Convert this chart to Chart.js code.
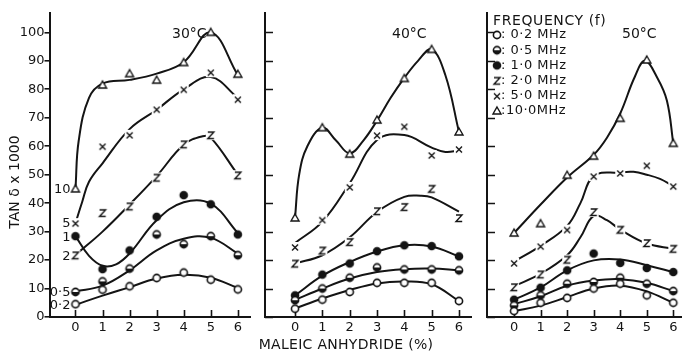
<!DOCTYPE html>
<html>
<head>
<meta charset="utf-8">
<script src="https://cdn.jsdelivr.net/npm/chart.js"></script>
<style>
  body { margin: 0; background: #fff; }
  #wrap { position: relative; width: 688px; height: 353px; }
  #wrap canvas { position: absolute; left: 0; top: 0; }
</style>
</head>
<body>
<div id="wrap">
  <canvas id="c30" width="688" height="353"></canvas>
  <canvas id="c40" width="688" height="353"></canvas>
  <canvas id="c50" width="688" height="353"></canvas>
</div>
<script>
const INK = '#141414';
const FONT = '"DejaVu Sans", sans-serif';

// --- DATA ---
const maleicPct = [0, 1, 2, 3, 4, 5, 6];
const yTicks = [0, 10, 20, 30, 40, 50, 60, 70, 80, 90, 100];
const freqLabels = ['0·2 MHz', '0·5 MHz', '1·0 MHz', '2·0 MHz', '5·0 MHz', '10·0MHz'];
const markerKinds = ['open', 'half', 'solid', 'z', 'x', 'tri'];
const tags30 = ['0·2', '0·5', '1', '2', '5', '10'];

// measured tan δ x 1000, one row per frequency, columns follow maleicPct
const marks30 = [
  [4.5, 9.6, 10.8, 13.7, 15.6, 13.1, 9.7],
  [8.8, 12.5, 17, 29, 25.6, 28.4, 21.7],
  [28.4, 16.8, 23.4, 35.2, 42.8, 39.6, 29],
  [21.7, 36.6, 38.9, 49, 60.7, 63.9, 49.8],
  [33, 60, 64, 73, 80, 86, 76.5],
  [45, 81.5, 85.5, 83.2, 89.4, 100, 85.3]
];
const marks40 = [
  [2.9, 6.1, 8.8, 12, 12, 12, 5.6],
  [5.9, 10, 13.8, 17.4, 16.7, 16.7, 16.4],
  [7.6, 14.9, 18.8, 23.1, 25.2, 24.9, 21.3],
  [18.8, 23.4, 26.4, 37.2, 38.7, 45.1, 34.8],
  [24.6, 34.2, 45.7, 63.9, 67, 56.9, 59],
  [34.8, 66.5, 57.2, 69.2, 83.8, 94, 65]
];
const marks50 = [
  [2.1, 5, 6.7, 10, 11.7, 7.6, 5],
  [4.1, 7.6, 11.7, 12.3, 13.8, 11.7, 9.1],
  [6.1, 10.3, 16.4, 22.3, 19, 17.2, 15.8],
  [10.5, 15, 20.2, 36.9, 30.7, 26, 24],
  [19, 24.9, 30.7, 49.5, 50.6, 53.3, 46],
  [29.5, 32.8, 49.8, 56.5, 69.8, 90.3, 61]
];

// trend curves drawn through the points, as [pct, value] pairs
const fit30 = [
  [[0, 4.3], [1, 7.5], [2, 10.5], [3, 13.5], [4, 14.8], [5, 13.8], [6, 10.2]],
  [[0, 9], [1, 11], [2, 16.4], [3, 23.4], [4, 27.5], [5, 27.8], [6, 22.3]],
  [[0, 28.4], [0.5, 21.5], [1, 18], [1.5, 18.5], [2, 22.3], [3, 34], [4, 40.3], [5, 39.8], [6, 29.5]],
  [[0.15, 23], [1, 30], [2, 39.5], [3, 49.5], [4, 60.5], [4.7, 63.5], [5, 63], [6, 50]],
  [[0, 33], [0.25, 40.5], [0.5, 47.5], [1, 54], [2, 66], [3, 72.8], [4, 80], [5, 84.3], [6, 77]],
  [[0, 45], [0.12, 62], [0.5, 77], [1, 82], [2, 83.3], [3, 85.5], [4, 89.5], [5, 100], [6, 85]]
];
const fit40 = [
  [[0, 3], [1, 6.5], [2, 9.5], [3, 11.8], [4, 12.5], [5, 11.5], [6, 5.6]],
  [[0, 6], [1, 10], [2, 13.5], [3, 15.8], [4, 16.8], [5, 17], [6, 16.4]],
  [[0, 7.6], [1, 14.5], [2, 19.3], [3, 23], [4, 25.2], [5, 24.8], [6, 21.3]],
  [[0, 18.8], [1, 21.7], [2, 28], [3, 36.9], [4, 42.2], [4.6, 42.6], [5, 42], [6, 37]],
  [[0, 26], [1, 33.5], [2, 47], [3, 62.2], [4, 63.9], [5, 59.5], [5.5, 58], [6, 58.5]],
  [[0, 35], [0.15, 50], [0.45, 60], [1, 66.5], [1.5, 62], [2, 57.5], [2.5, 62], [3, 69], [3.5, 77], [4, 84], [4.5, 90], [5, 94], [5.5, 85], [6, 65]]
];
const fit50 = [
  [[0, 2.1], [1, 4], [2, 7], [3, 10], [4, 11], [5, 9], [6, 5]],
  [[0, 4.5], [1, 7.3], [2, 11], [3, 12.8], [4, 13.3], [5, 12], [6, 9.1]],
  [[0, 6.1], [1, 10.4], [2, 16.4], [3, 19.9], [4, 20.2], [5, 18.2], [6, 15.8]],
  [[0, 10.8], [1, 15.2], [2, 21.7], [2.5, 28], [3, 35.5], [3.5, 34], [4, 30.7], [5, 25.8], [6, 24]],
  [[0, 19.5], [1, 25], [2, 32], [2.5, 40], [3, 49.5], [4, 50.8], [4.5, 51], [5, 50], [5.5, 48.5], [6, 46]],
  [[0, 29.5], [1, 39.5], [2, 49], [3, 57], [3.5, 63], [4, 71.5], [4.55, 84.4], [4.93, 90], [5.4, 84], [5.76, 76], [6, 61]]
];

// --- MARKERS ---
// small canvases used as pointStyle; x and z get a white pad so the curve breaks around them
function makeMarker(kind) {
  const c = document.createElement('canvas');
  c.width = 14; c.height = 14;
  const g = c.getContext('2d');
  g.strokeStyle = INK;
  g.lineWidth = 1.6;
  g.beginPath();
  if (kind === 'open' || kind === 'half') {
    g.arc(7, 7, 3.6, 0, Math.PI * 2);
    g.fillStyle = '#fff';
    g.fill();
    if (kind === 'half') {
      g.beginPath();
      g.arc(7, 7, 3.6, 0, Math.PI);
      g.fillStyle = INK;
      g.fill();
      g.beginPath();
      g.arc(7, 7, 3.6, 0, Math.PI * 2);
    }
    g.stroke();
  } else if (kind === 'solid') {
    g.arc(7, 7, 4.3, 0, Math.PI * 2);
    g.fillStyle = INK;
    g.fill();
  } else if (kind === 'z' || kind === 'x') {
    g.fillStyle = '#fff';
    g.fillRect(2, 2, 10, 10);
    g.lineWidth = 1.4;
    if (kind === 'z') {
      g.moveTo(4, 4); g.lineTo(10, 4); g.lineTo(4, 10.5); g.lineTo(10.2, 10.5);
    } else {
      g.moveTo(4, 4.5); g.lineTo(10, 10.5);
      g.moveTo(10, 4.5); g.lineTo(4, 10.5);
    }
    g.stroke();
  } else if (kind === 'tri') {
    g.moveTo(7, 3); g.lineTo(11, 10); g.lineTo(3, 10); g.closePath();
    g.fillStyle = '#fff';
    g.fill();
    g.lineWidth = 1.4;
    g.stroke();
  }
  return c;
}
const markerImgs = markerKinds.map(makeMarker);

// --- DECORATION PLUGIN ---
// inward tick marks, temperature tag, curve tags, legend and axis titles
const panelDecor = {
  id: 'panelDecor',
  beforeDatasetsDraw(chart, args, opts) {
    const { ctx, chartArea: a, scales: { x, y } } = chart;
    ctx.save();
    ctx.strokeStyle = INK;
    ctx.lineWidth = 1.6;
    ctx.beginPath();
    maleicPct.forEach(v => {
      const px = Math.round(x.getPixelForValue(v)) + 0.5;
      ctx.moveTo(px, a.bottom);
      ctx.lineTo(px, a.bottom - 7);
    });
    if (opts.innerY) {
      yTicks.forEach(v => {
        const py = Math.round(y.getPixelForValue(v)) + 0.5;
        ctx.moveTo(a.left, py);
        ctx.lineTo(a.left + 8, py);
      });
    }
    ctx.stroke();
    ctx.restore();
  },
  afterDatasetsDraw(chart, args, opts) {
    const { ctx, scales: { x, y } } = chart;
    ctx.save();
    ctx.fillStyle = INK;
    ctx.textBaseline = 'middle';

    ctx.font = '14px ' + FONT;
    ctx.textAlign = 'left';
    ctx.fillText(opts.temp, opts.tempX, 34);

    if (opts.tags) {
      ctx.font = '13px ' + FONT;
      ctx.textAlign = 'right';
      opts.tags.forEach((t, i) => {
        ctx.fillText(t, x.getPixelForValue(0) - 5, y.getPixelForValue(opts.marks[i][0]) + 1);
      });
    }

    if (opts.legend) {
      ctx.textAlign = 'left';
      ctx.font = '14px ' + FONT;
      ctx.letterSpacing = '0.6px';
      ctx.fillText('FREQUENCY (f)', 493, 21);
      ctx.font = '13px ' + FONT;
      ctx.letterSpacing = '0.5px';
      freqLabels.forEach((lab, i) => {
        const ly = 35 + 15.2 * i;
        const img = markerImgs[i];
        ctx.drawImage(img, 497 - img.width / 2, ly - img.height / 2);
        ctx.fillText((i === 5 ? ':' : ': ') + lab, 501, ly);
      });
      ctx.letterSpacing = '0px';
    }

    if (opts.yTitle) {
      ctx.save();
      ctx.translate(15, 182);
      ctx.rotate(-Math.PI / 2);
      ctx.textAlign = 'center';
      ctx.font = '14px ' + FONT;
      ctx.fillText(opts.yTitle, 0, 0);
      ctx.restore();
    }

    if (opts.xTitle) {
      ctx.textAlign = 'center';
      ctx.font = '14px ' + FONT;
      ctx.letterSpacing = '0.3px';
      ctx.fillText(opts.xTitle, 346, 345);
    }
    ctx.restore();
  }
};

// --- PANELS ---
const panels = [
  { canvas: 'c30', temp: '30°C', tempX: 172, marks: marks30, fit: fit30, left: 49.5, right: 250, xMin: -0.96, xMax: 6.45,
    yLabels: true, tags: tags30, yTitle: 'TAN δ x 1000' },
  { canvas: 'c40', temp: '40°C', tempX: 392, marks: marks40, fit: fit40, left: 265, right: 471, xMin: -1.1, xMax: 6.44,
    yLabels: false, xTitle: 'MALEIC ANHYDRIDE (%)' },
  { canvas: 'c50', temp: '50°C', tempX: 622, marks: marks50, fit: fit50, left: 487, right: 688, xMin: -1.02, xMax: 6.29,
    yLabels: false, legend: true }
];

function buildDatasets(p) {
  const sets = [];
  freqLabels.forEach((lab, i) => {
    sets.push({
      label: lab + ' fit',
      data: p.fit[i].map(([x, y]) => ({ x, y })),
      showLine: true,
      borderColor: INK,
      borderWidth: 2,
      pointRadius: 0,
      tension: 0.4,
      order: 2
    });
    sets.push({
      label: lab,
      data: maleicPct.map((x, j) => ({ x, y: p.marks[i][j] })),
      showLine: false,
      pointStyle: markerImgs[i],
      pointRadius: 6,
      order: 1
    });
  });
  return sets;
}

panels.forEach(p => {
  new Chart(document.getElementById(p.canvas), {
    type: 'scatter',
    data: { datasets: buildDatasets(p) },
    plugins: [panelDecor],
    options: {
      responsive: false,
      animation: false,
      devicePixelRatio: 1,
      events: [],
      clip: false,
      layout: { padding: { left: 0, top: 13, right: 688 - p.right, bottom: 0 } },
      plugins: {
        legend: { display: false },
        tooltip: { enabled: false },
        panelDecor: {
          temp: p.temp, tempX: p.tempX, marks: p.marks, tags: p.tags,
          innerY: !p.yLabels, legend: p.legend, yTitle: p.yTitle, xTitle: p.xTitle
        }
      },
      scales: {
        x: {
          type: 'linear',
          min: p.xMin,
          max: p.xMax,
          afterBuildTicks: s => { s.ticks = maleicPct.map(v => ({ value: v })); },
          afterFit: s => { s.height = 36; },
          grid: { display: false, drawTicks: false },
          border: { display: true, color: INK, width: 2 },
          ticks: { color: INK, font: { family: FONT, size: 13 }, padding: 3, maxRotation: 0 }
        },
        y: {
          min: 0,
          max: 106.8,
          afterBuildTicks: s => { s.ticks = yTicks.map(v => ({ value: v })); },
          afterFit: s => { s.width = p.left; },
          grid: p.yLabels
            ? { display: true, drawOnChartArea: false, drawTicks: true, tickLength: 5, color: INK, lineWidth: 1.6 }
            : { display: false },
          border: { display: true, color: INK, width: 2 },
          ticks: { display: p.yLabels, color: INK, font: { family: FONT, size: 13 }, padding: 0 }
        }
      }
    }
  });
});
</script>
</body>
</html>
